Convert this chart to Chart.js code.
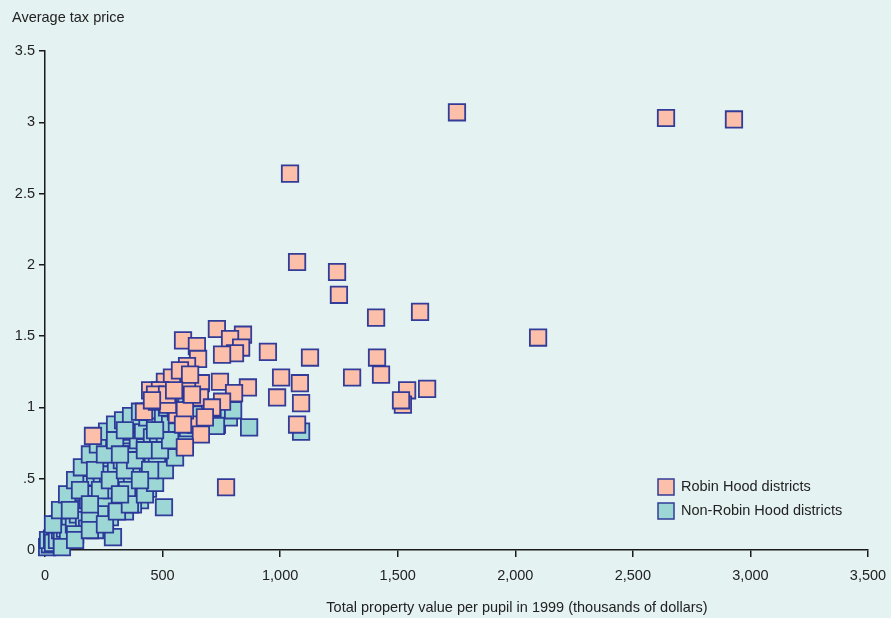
<!DOCTYPE html>
<html>
<head>
<meta charset="utf-8">
<script src="https://cdn.jsdelivr.net/npm/chart.js@4.4.1/dist/chart.umd.min.js"></script>
<style>
  body { margin: 0; background: #e5f2f2; }
  #wrap { width: 891px; height: 618px; }
</style>
</head>
<body>
<div id="wrap"><canvas id="myChart"></canvas></div>
<script>
// Robin Hood districts: [property value per pupil (thousands $), average tax price]
var robinHood = [
  [1752, 3.07], [2641, 3.03], [2930, 3.02], [1042, 2.64], [1072, 2.02],
  [1242, 1.95], [1250, 1.79], [1408, 1.63], [1595, 1.67], [2097, 1.49],
  [1127, 1.35], [1412, 1.35], [1429, 1.23], [1306, 1.21], [1004, 1.21],
  [987, 1.07], [1084, 1.17], [1089, 1.03], [1072, 0.88], [1540, 1.12],
  [1625, 1.13], [1522, 1.02], [1514, 1.05], [948, 1.39], [863, 1.14],
  [770, 0.44], [204, 0.80], [731, 1.55], [842, 1.51], [787, 1.48],
  [834, 1.42], [808, 1.38], [753, 1.37], [587, 1.47], [646, 1.43],
  [651, 1.34], [604, 1.29], [744, 1.18], [663, 1.17], [804, 1.10],
  [753, 1.04], [659, 1.07], [710, 1.00], [510, 1.18], [493, 1.05],
  [557, 0.97], [642, 0.88], [663, 0.81], [595, 0.72], [421, 0.97],
  [561, 0.95], [447, 1.12], [476, 1.04], [532, 1.10], [553, 1.14],
  [604, 1.19], [540, 1.21], [489, 1.12], [468, 1.09], [574, 1.26],
  [617, 1.23], [523, 1.02], [595, 0.98], [680, 0.93], [625, 1.09],
  [587, 0.88], [519, 1.09], [549, 1.12], [455, 1.05]
];

// Non-Robin Hood districts
var nonRobinHood = [
  [9, 0.02], [21, 0.04], [13, 0.07], [30, 0.08], [43, 0.11], [34, 0.05],
  [51, 0.07], [64, 0.14], [55, 0.18], [72, 0.09], [85, 0.15], [77, 0.21],
  [94, 0.25], [106, 0.20], [98, 0.12], [115, 0.28], [128, 0.32], [123, 0.18],
  [140, 0.25], [149, 0.36], [157, 0.29], [170, 0.42], [166, 0.21], [183, 0.35],
  [191, 0.46], [200, 0.27], [213, 0.51], [217, 0.39], [234, 0.56], [225, 0.32],
  [242, 0.46], [255, 0.62], [259, 0.35], [268, 0.53], [276, 0.67], [285, 0.42],
  [298, 0.70], [302, 0.56], [310, 0.49], [319, 0.74], [327, 0.63], [336, 0.39],
  [340, 0.77], [349, 0.56], [353, 0.69], [361, 0.83], [370, 0.46], [374, 0.67],
  [383, 0.88], [387, 0.56], [395, 0.77], [404, 0.91], [408, 0.63], [417, 0.84],
  [425, 0.72], [434, 0.93], [438, 0.56], [447, 0.97], [455, 0.79], [459, 0.67],
  [468, 0.88], [476, 0.98], [481, 0.74], [489, 0.84], [498, 0.62], [502, 0.95],
  [510, 0.77], [519, 1.00], [523, 0.69], [532, 0.88], [540, 0.75], [553, 1.02],
  [561, 0.83], [574, 0.97], [583, 0.77], [595, 0.91], [608, 0.84], [617, 0.98],
  [638, 0.93], [659, 0.95], [680, 0.88], [702, 0.97], [731, 0.88], [782, 0.93],
  [800, 0.98], [868, 0.86], [727, 0.87], [289, 0.09], [506, 0.30], [438, 0.43],
  [1089, 0.83], [255, 0.21], [213, 0.14], [340, 0.27], [404, 0.35], [374, 0.32],
  [179, 0.15], [276, 0.23], [349, 0.42], [476, 0.61], [319, 0.35], [234, 0.25],
  [191, 0.21], [128, 0.11], [72, 0.02],
  [34, 0.18], [64, 0.28], [94, 0.39], [128, 0.49], [157, 0.58], [191, 0.67],
  [225, 0.74], [264, 0.83], [298, 0.88], [332, 0.91], [366, 0.94], [404, 0.97],
  [128, 0.07], [191, 0.14], [255, 0.18], [306, 0.27], [361, 0.32], [425, 0.39],
  [468, 0.47], [510, 0.56], [553, 0.65], [595, 0.74],
  [106, 0.28], [149, 0.42], [213, 0.56], [255, 0.67], [298, 0.77], [340, 0.84],
  [234, 0.42], [276, 0.49], [340, 0.56], [383, 0.63], [425, 0.70], [447, 0.56],
  [404, 0.49], [319, 0.39], [489, 0.70], [532, 0.77], [468, 0.84], [319, 0.67],
  [191, 0.32]
];

var xTicks = [0, 500, 1000, 1500, 2000, 2500, 3000, 3500];
var yTicks = [0, 0.5, 1, 1.5, 2, 2.5, 3, 3.5];
var seriesNames = ['Robin Hood districts', 'Non-Robin Hood districts'];

var fontFam = "'Liberation Sans Narrow', 'Liberation Sans', sans-serif";
var pinkFill = '#fcbfa9';
var tealFill = '#9dd7d5';
var edge = 'rgba(40, 52, 150, 0.95)';

function toPoints(arr) {
  return arr.map(function (p) { return { x: p[0], y: p[1] }; });
}

// legend + axis titles drawn by hand
var extras = {
  id: 'extras',
  afterDraw: function (chart) {
    var ctx = chart.ctx;
    ctx.save();
    ctx.fillStyle = '#222';
    ctx.font = '14.5px ' + fontFam;
    ctx.textBaseline = 'middle';
    ctx.textAlign = 'left';
    ctx.fillText('Average tax price', 12, 18);
    ctx.textAlign = 'center';
    ctx.fillText('Total property value per pupil in 1999 (thousands of dollars)', 517, 608);

    var fills = [pinkFill, tealFill];
    ctx.textAlign = 'left';
    for (var i = 0; i < seriesNames.length; i++) {
      var cy = 487 + i * 24;
      ctx.fillStyle = fills[i];
      ctx.fillRect(658, cy - 8, 16, 16);
      ctx.strokeStyle = edge;
      ctx.lineWidth = 1.5;
      ctx.strokeRect(658, cy - 8, 16, 16);
      ctx.fillStyle = '#222';
      ctx.fillText(seriesNames[i], 681, cy);
    }
    ctx.restore();
  }
};

const ctx = document.getElementById('myChart').getContext('2d');
const chart = new Chart(ctx, {
  type: 'scatter',
  data: {
    datasets: [{
      label: seriesNames[0],
      data: toPoints(robinHood),
      backgroundColor: pinkFill,
      borderColor: edge,
      borderWidth: 1.8,
      pointStyle: 'rect',
      pointRadius: 11.6,
      clip: false
    }, {
      label: seriesNames[1],
      data: toPoints(nonRobinHood),
      backgroundColor: tealFill,
      borderColor: edge,
      borderWidth: 1.8,
      pointStyle: 'rect',
      pointRadius: 11.6,
      clip: false
    }]
  },
  options: {
    responsive: true,
    maintainAspectRatio: false,
    animation: false,
    layout: { padding: { top: 51, right: 23, left: 0, bottom: 0 } },
    plugins: {
      legend: { display: false },
      tooltip: { enabled: false }
    },
    scales: {
      x: {
        type: 'linear',
        min: 0,
        max: 3500,
        afterBuildTicks: function (s) { s.ticks = xTicks.map(function (v) { return { value: v }; }); },
        afterFit: function (s) { s.height = 68; s.paddingLeft = 0; s.paddingRight = 0; },
        border: { display: true, color: '#1a1a1a', width: 1.5 },
        grid: { drawOnChartArea: false, drawTicks: true, tickLength: 7, color: '#1a1a1a', lineWidth: 1.5 },
        ticks: {
          autoSkip: false,
          maxRotation: 0,
          padding: 10,
          color: '#222',
          font: { family: fontFam, size: 14.5 },
          callback: function (v) { return v.toLocaleString('en-US'); }
        }
      },
      y: {
        type: 'linear',
        min: 0,
        max: 3.5,
        afterBuildTicks: function (s) { s.ticks = yTicks.map(function (v) { return { value: v }; }); },
        afterFit: function (s) { s.width = 45; s.paddingTop = 0; s.paddingBottom = 0; },
        border: { display: true, color: '#1a1a1a', width: 1.5 },
        grid: { drawOnChartArea: false, drawTicks: true, tickLength: 6, color: '#1a1a1a', lineWidth: 1.5 },
        ticks: {
          autoSkip: false,
          padding: 4,
          color: '#222',
          font: { family: fontFam, size: 14.5 },
          callback: function (v) { return String(v).replace(/^0\./, '.'); }
        }
      }
    }
  },
  plugins: [extras]
});
</script>
</body>
</html>
